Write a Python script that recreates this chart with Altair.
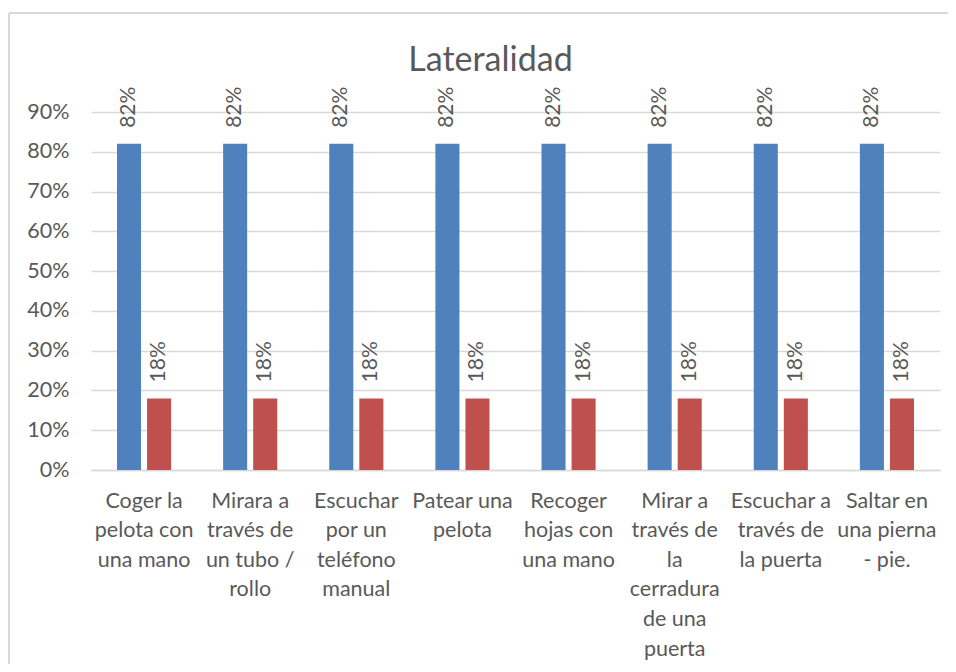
import altair as alt
import pandas as pd

categories = [
    "Coger la|pelota con|una mano",
    "Mirara a|través de|un tubo /|rollo",
    "Escuchar|por un|teléfono|manual",
    "Patear una|pelota",
    "Recoger|hojas con|una mano",
    "Mirar a|través de|la|cerradura|de una|puerta",
    "Escuchar a|través de|la puerta",
    "Saltar en|una pierna|- pie.",
]
series = ["Derecha", "Izquierda"]
values_derecha = [0.82, 0.82, 0.82, 0.82, 0.82, 0.82, 0.82, 0.82]
values_izquierda = [0.18, 0.18, 0.18, 0.18, 0.18, 0.18, 0.18, 0.18]
y_ticks = [0, 0.1, 0.2, 0.3, 0.4, 0.5, 0.6, 0.7, 0.8, 0.9]
colors = ["#4F81BD", "#C0504D"]

rows = []
for c, a, b in zip(categories, values_derecha, values_izquierda):
    rows.append({"cat": c, "serie": series[0], "val": a})
    rows.append({"cat": c, "serie": series[1], "val": b})
df = pd.DataFrame(rows)

FONT = "Lato"
TXT = "#595959"

x_enc = alt.X(
    "cat:N",
    sort=categories,
    scale=alt.Scale(paddingInner=0.49, paddingOuter=0.245),
    axis=alt.Axis(
        title=None,
        labelAngle=0,
        labelExpr="split(datum.label, '|')",
        labelFontSize=21.5,
        labelFont=FONT,
        labelColor=TXT,
        labelLineHeight=29.6,
        labelPadding=20,
        labelBaseline="top",
        ticks=False,
        domain=True,
        domainColor="#D9D9D9",
        domainWidth=1.5,
        labelLimit=200,
        labelOverlap=False,
    ),
)
xo_enc = alt.XOffset("serie:N", sort=series, scale=alt.Scale(paddingInner=0.2, paddingOuter=0))
y_enc = alt.Y(
    "val:Q",
    scale=alt.Scale(domain=[0, 0.9]),
    axis=alt.Axis(
        title=None,
        format=".0%",
        values=y_ticks,
        labelFontSize=21.5,
        labelFont=FONT,
        labelColor=TXT,
        labelPadding=22,
        labelOverlap=False,
        ticks=False,
        domain=False,
        grid=True,
        gridColor="#D9D9D9",
        gridWidth=1.5,
    ),
)
color_enc = alt.Color("serie:N", sort=series, scale=alt.Scale(domain=series, range=colors), legend=None)

bars = alt.Chart(df).mark_bar().encode(x=x_enc, xOffset=xo_enc, y=y_enc, color=color_enc)

labels = alt.Chart(df).mark_text(
    angle=270, align="left", baseline="middle", dx=16, fontSize=21, font=FONT, color=TXT
).encode(
    x=x_enc,
    xOffset=xo_enc,
    y=y_enc,
    text=alt.Text("val:Q", format=".0%"),
)

frame_left = alt.Chart(df).mark_rule(color="#D9D9D9", strokeWidth=1.5).encode(
    x=alt.value(-82), y=alt.value(-99), y2=alt.value(600)
)
frame_top = alt.Chart(df).mark_rule(color="#D9D9D9", strokeWidth=1.5).encode(
    x=alt.value(-82), x2=alt.value(900), y=alt.value(-99)
)

chart = (
    alt.layer(frame_left, frame_top, bars, labels)
    .properties(
        width=849,
        height=358,
        autosize=alt.AutoSizeParams(type="none"),
        padding={"left": 83, "top": 104, "right": 8, "bottom": 194},
        title=alt.TitleParams(
            "Lateralidad", font=FONT, fontSize=34, fontWeight="normal", color=TXT,
            dx=-25, dy=70, anchor="middle"
        ),
    )
    .configure_view(stroke=None)
)

chart.save("out.html", embed_options={"renderer": "svg", "actions": False})
